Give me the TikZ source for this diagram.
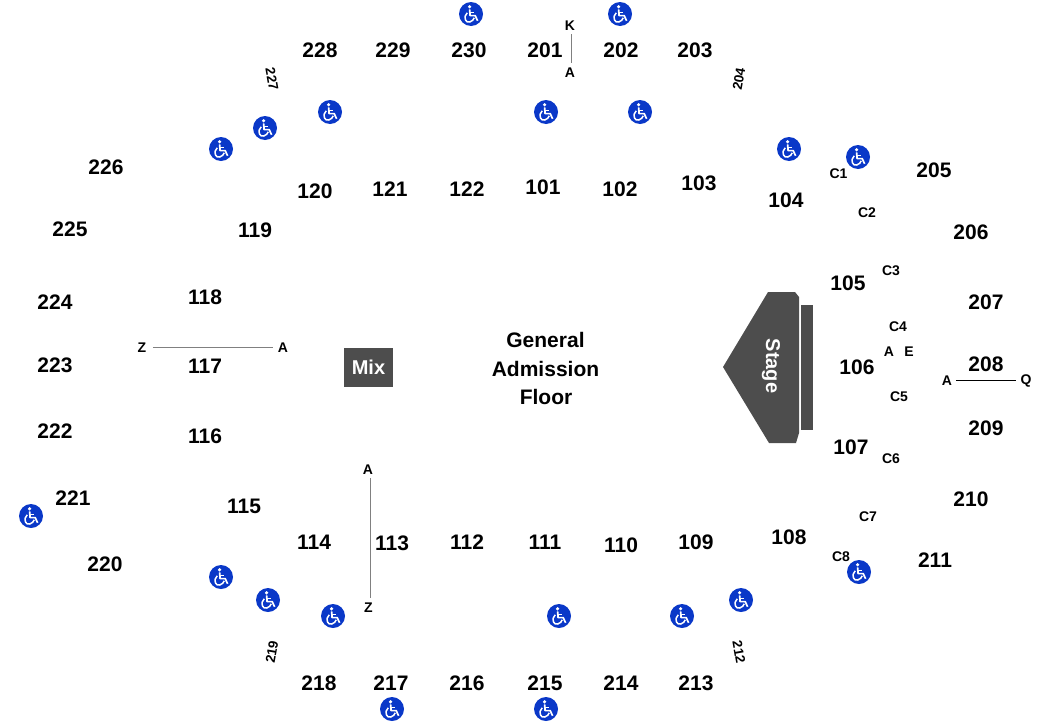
\documentclass[tikz,border=0pt]{standalone}
\usepackage{fontspec}
\setmainfont{Liberation Sans}
\definecolor{stagegray}{HTML}{4D4D4D}
\definecolor{wheelblue}{HTML}{0A38C8}
\tikzset{
  seclabel/.style={font=\bfseries\fontsize{21}{21}\selectfont, text=black, inner sep=0pt},
  rowlabel/.style={font=\bfseries\fontsize{14}{14}\selectfont, text=black, inner sep=0pt},
  sidelabel/.style={font=\bfseries\fontsize{13.5}{13.5}\selectfont, text=black, inner sep=0pt},
  rowline/.style={draw=black!50, line width=1pt},
  wheel/.style={circle, fill=wheelblue, draw=none, minimum size=24pt, inner sep=0pt,
    path picture={
      \fill [white] ([shift={(-1.4,-7.2)}]path picture bounding box.center) circle [radius=1.8];
      \draw [white, line width=1.7pt, line join=round]
        ([shift={(-1.4,-4.6)}]path picture bounding box.center) --
        ([shift={(-0.9,1.6)}]path picture bounding box.center) --
        ([shift={(4.2,1.6)}]path picture bounding box.center) --
        ([shift={(6.6,6.8)}]path picture bounding box.center);
      \draw [white, line width=1.5pt]
        ([shift={(-1.4,-1.6)}]path picture bounding box.center) --
        ([shift={(3.4,-1.6)}]path picture bounding box.center);
      \draw [white, line width=1.5pt]
        ([shift={(-3.8,-1.2)}]path picture bounding box.center)
        .. controls ([shift={(-8.6,3.4)}]path picture bounding box.center) and ([shift={(-4.8,9.6)}]path picture bounding box.center) ..
        ([shift={(-1.2,8)}]path picture bounding box.center)
        .. controls ([shift={(1.2,7.4)}]path picture bounding box.center) and ([shift={(2.8,5.4)}]path picture bounding box.center) ..
        ([shift={(3.2,3.8)}]path picture bounding box.center);
    }},
}
\begin{document}
\begin{tikzpicture}[x=1pt,y=-1pt]
\useasboundingbox (0,0) rectangle (1038,723);
% stage and mix
\fill [stagegray] (768,292) -- (795,292) -- (799,297) -- (799,433) -- (796,443) -- (769,443) -- (723,367) -- cycle;
\fill [stagegray] (801,305) rectangle (813,430);
\node [font=\bfseries\fontsize{20}{20}\selectfont, text=white, rotate=-90, inner sep=0pt] (stage) at (771,366) {Stage};
\node [fill=stagegray, minimum width=49pt, minimum height=39pt, inner sep=0pt, font=\bfseries\fontsize{20}{20}\selectfont, text=white] (mix) at (368.5,367.5) {Mix};
\node [seclabel] (floora) at (545.5,340) {General};
\node [seclabel] (floorb) at (545.5,369) {Admission};
\node [seclabel] (floorc) at (546,397) {Floor};
% upper level
\node [seclabel] (s228) at (320,50) {228};
\node [seclabel] (s229) at (393,50) {229};
\node [seclabel] (s230) at (469,50) {230};
\node [seclabel] (s201) at (545,50) {201};
\node [seclabel] (s202) at (621,50) {202};
\node [seclabel] (s203) at (695,50) {203};
\node [seclabel] (s205) at (934,170) {205};
\node [seclabel] (s206) at (971,232) {206};
\node [seclabel] (s207) at (986,302) {207};
\node [seclabel] (s208) at (986,364) {208};
\node [seclabel] (s209) at (986,428) {209};
\node [seclabel] (s210) at (971,499) {210};
\node [seclabel] (s211) at (935,560) {211};
\node [seclabel] (s213) at (696,683) {213};
\node [seclabel] (s214) at (621,683) {214};
\node [seclabel] (s215) at (545,683) {215};
\node [seclabel] (s216) at (467,683) {216};
\node [seclabel] (s217) at (391,683) {217};
\node [seclabel] (s218) at (319,683) {218};
\node [seclabel] (s220) at (105,564) {220};
\node [seclabel] (s221) at (73,498) {221};
\node [seclabel] (s222) at (55,431) {222};
\node [seclabel] (s223) at (55,365) {223};
\node [seclabel] (s224) at (55,302) {224};
\node [seclabel] (s225) at (70,229) {225};
\node [seclabel] (s226) at (106,167) {226};
% lower level
\node [seclabel] (s101) at (543,187) {101};
\node [seclabel] (s102) at (620,189) {102};
\node [seclabel] (s103) at (699,183) {103};
\node [seclabel] (s104) at (786,200) {104};
\node [seclabel] (s105) at (848,283) {105};
\node [seclabel] (s106) at (857,367) {106};
\node [seclabel] (s107) at (851,447) {107};
\node [seclabel] (s108) at (789,537) {108};
\node [seclabel] (s109) at (696,542) {109};
\node [seclabel] (s110) at (621,545) {110};
\node [seclabel] (s111) at (545,542) {111};
\node [seclabel] (s112) at (467,542) {112};
\node [seclabel] (s113) at (392,543) {113};
\node [seclabel] (s114) at (314,542) {114};
\node [seclabel] (s115) at (244,506) {115};
\node [seclabel] (s116) at (205,436) {116};
\node [seclabel] (s117) at (205,366) {117};
\node [seclabel] (s118) at (205,297) {118};
\node [seclabel] (s119) at (255,230) {119};
\node [seclabel] (s120) at (315,191) {120};
\node [seclabel] (s121) at (390,189) {121};
\node [seclabel] (s122) at (467,189) {122};
% sideways numbers
\node [sidelabel, rotate=-80] (s227) at (272,79) {227};
\node [sidelabel, rotate=80] (s204) at (739,79) {204};
\node [sidelabel, rotate=80] (s219) at (272,652) {219};
\node [sidelabel, rotate=-80] (s212) at (739,652) {212};
% club rows
\node [rowlabel] (c1) at (838.5,174) {C1};
\node [rowlabel] (c2) at (867,213) {C2};
\node [rowlabel] (c3) at (891,271) {C3};
\node [rowlabel] (c4) at (898,327) {C4};
\node [rowlabel] (c5) at (899,397) {C5};
\node [rowlabel] (c6) at (891,459) {C6};
\node [rowlabel] (c7) at (868,517) {C7};
\node [rowlabel] (c8) at (841,557) {C8};
\node [rowlabel] (ca) at (889,352) {A};
\node [rowlabel] (ce) at (909,352) {E};
% row markers
\node [rowlabel] (kt) at (570,26) {K};
\node [rowlabel] (ka) at (570,73) {A};
\node [rowlabel] (zl) at (142,348) {Z};
\node [rowlabel] (ar) at (283,348) {A};
\node [rowlabel] (al) at (947,381) {A};
\node [rowlabel] (qr) at (1026,381) {Q};
\node [rowlabel] (at) at (368,470) {A};
\node [rowlabel] (zb) at (368.5,608) {Z};
\draw [rowline] ([xshift=1.5pt,yshift=-3pt]kt.south) -- ([xshift=1.5pt,yshift=4.5pt]ka.north);
\draw [rowline] ([xshift=6.5pt,yshift=1pt]zl.east) -- ([xshift=-5pt,yshift=1pt]ar.west);
\draw [black, line width=1.2pt] ([xshift=3.5pt,yshift=.7pt]al.east) -- ([xshift=-4pt,yshift=.7pt]qr.west);
\draw [rowline] ([xshift=2.3pt,yshift=-3pt]at.south) -- ([xshift=1.8pt,yshift=5pt]zb.north);
% wheelchair spots
\node [wheel] (w1) at (471,14) {};
\node [wheel] (w2) at (620,14) {};
\node [wheel] (w3) at (330,112) {};
\node [wheel] (w4) at (265,128) {};
\node [wheel] (w5) at (221,149) {};
\node [wheel] (w6) at (546,112) {};
\node [wheel] (w7) at (640,112) {};
\node [wheel] (w8) at (789,149) {};
\node [wheel] (w9) at (858,157) {};
\node [wheel] (w10) at (31,516) {};
\node [wheel] (w11) at (221,577) {};
\node [wheel] (w12) at (268,600) {};
\node [wheel] (w13) at (333,616) {};
\node [wheel] (w14) at (559,616) {};
\node [wheel] (w15) at (682,616) {};
\node [wheel] (w16) at (741,600) {};
\node [wheel] (w17) at (859,572) {};
\node [wheel] (w18) at (392,709) {};
\node [wheel] (w19) at (546,709) {};
\end{tikzpicture}
\end{document}
